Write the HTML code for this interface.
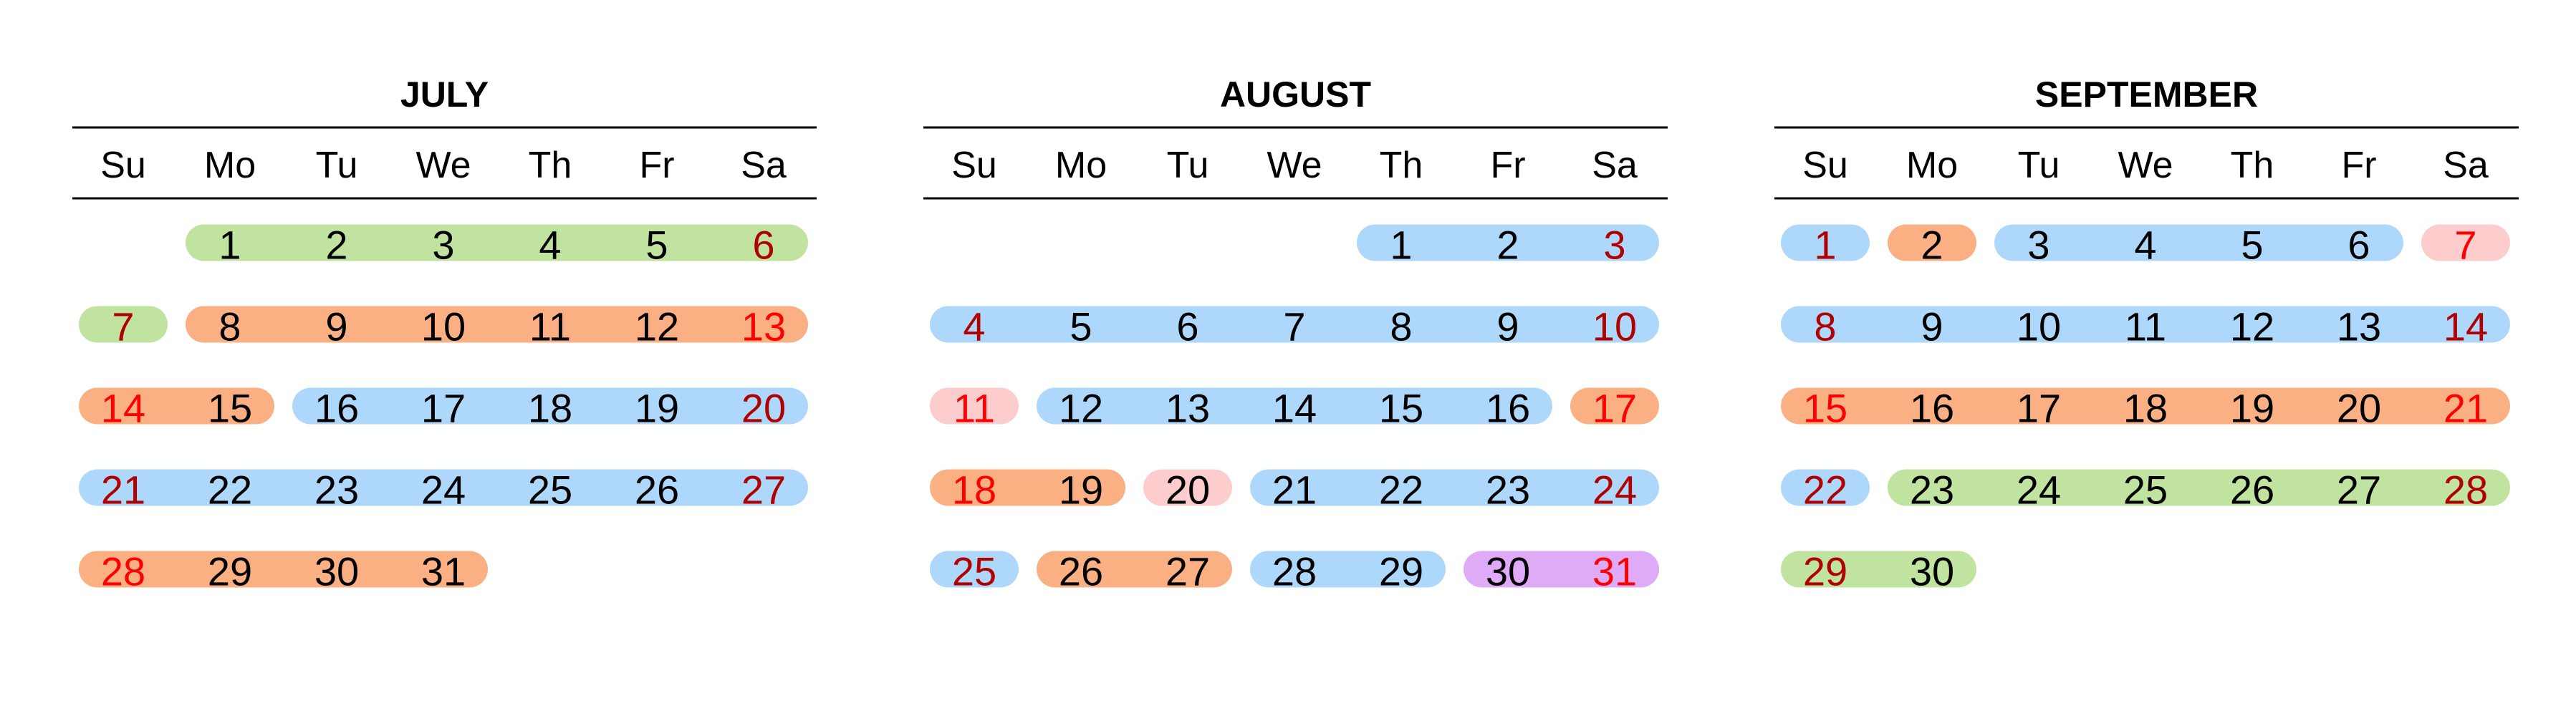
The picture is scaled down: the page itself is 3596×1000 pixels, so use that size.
<!DOCTYPE html>
<html><head><meta charset="utf-8"><style>
html,body{margin:0;padding:0;background:#fff;}
svg{display:block;}
text{font-family:"Liberation Sans",sans-serif;}
</style></head><body>
<svg id="cal" width="3596" height="1000" viewBox="0 0 3596 1000" xmlns="http://www.w3.org/2000/svg"></svg>
<script>
const monthNames = ["JULY","AUGUST","SEPTEMBER"];
const monthStartDow = [1,4,0];
const monthDays = [31,31,30];
const dayHeaders = ["Su","Mo","Tu","We","Th","Fr","Sa"];
const julySegments = [[1,7,"g"],[8,15,"o"],[16,27,"b"],[28,31,"o"]];
const augustSegments = [[1,10,"b"],[11,11,"p"],[12,16,"b"],[17,19,"o"],[20,20,"p"],[21,25,"b"],[26,27,"o"],[28,29,"b"],[30,31,"v"]];
const septemberSegments = [[1,1,"b"],[2,2,"o"],[3,6,"b"],[7,7,"p"],[8,14,"b"],[15,21,"o"],[22,22,"b"],[23,30,"g"]];
const allSegments = [julySegments, augustSegments, septemberSegments];

const colors = {g:"#c0e3a0",o:"#fbb083",b:"#aed8fb",p:"#fdcccd",v:"#dfaaf8"};
const NS = "http://www.w3.org/2000/svg";
const svg = document.getElementById('cal');
const monthOffset = 1188, lineX0 = 101, lineX1 = 1140, col0 = 172, colStep = 149;
const rowY0 = 339, rowStep = 114, pillH = 51, pad = 62;
function colX(m, c){ return col0 + m*monthOffset + c*colStep; }
function rowY(r){ return rowY0 + r*rowStep; }
function mk(tag, attrs, parent){ const e = document.createElementNS(NS, tag); for (const k in attrs) e.setAttribute(k, attrs[k]); (parent||svg).appendChild(e); return e; }

monthNames.forEach((name, m) => {
  const g = mk('g', {});
  
  
  const t = mk('text', {x: (lineX0+lineX1)/2 + m*monthOffset, y: 132, 'font-size': 50, 'font-weight': 'bold', 'text-anchor': 'middle', 'dominant-baseline': 'central'}, g);
  t.textContent = name;
  
  
  [178, 277].forEach(y => {
    const l = mk('line', {x1: lineX0 + m*monthOffset, x2: lineX1 + m*monthOffset, y1: y, y2: y, stroke: '#000', 'stroke-width': 3}, g);
    
    
  });
  dayHeaders.forEach((d, c) => {
    const h = mk('text', {x: colX(m,c), y: 231, 'font-size': 52, 'text-anchor': 'middle', 'dominant-baseline': 'central'}, g);
    h.textContent = d;
    
    
  });
  const dayColor = {};
  allSegments[m].forEach(([s, e, col]) => {
    for (let d = s; d <= e; d++) dayColor[d] = col;
    let d = s;
    while (d <= e) {
      const idx = d - 1 + monthStartDow[m];
      const r = Math.floor(idx/7), c0 = idx % 7;
      const endInRow = Math.min(e, d + (6 - c0));
      const c1 = (endInRow - 1 + monthStartDow[m]) % 7;
      const x0 = colX(m,c0) - pad, x1 = colX(m,c1) + pad;
      const p = mk('rect', {x: x0, y: rowY(r) - pillH/2, width: x1 - x0, height: pillH, rx: pillH/2, ry: pillH/2, fill: colors[col]}, g);
      
      
      d = endInRow + 1;
    }
  });
  for (let d = 1; d <= monthDays[m]; d++) {
    const idx = d - 1 + monthStartDow[m];
    const r = Math.floor(idx/7), c = idx % 7;
    let fill = '#000';
    if (c === 0 || c === 6) fill = (['o','p','v'].includes(dayColor[d])) ? '#ff0000' : '#b00000';
    const t2 = mk('text', {x: colX(m,c), y: rowY(r) + 3, 'font-size': 56, 'text-anchor': 'middle', 'dominant-baseline': 'central', fill: fill}, g);
    t2.textContent = d;
    
    
  }
});
</script>
</body></html>
